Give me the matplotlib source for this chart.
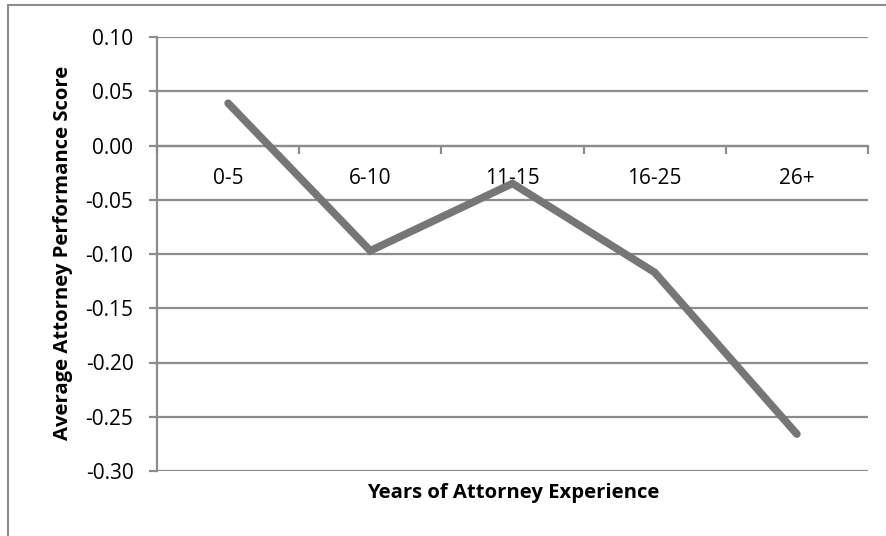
import numpy as np
import matplotlib.pyplot as plt
from matplotlib.patches import Rectangle

categories = ['0-5', '6-10', '11-15', '16-25', '26+']
scores = [0.039, -0.097, -0.035, -0.117, -0.266]
yticks = [0.10, 0.05, 0.00, -0.05, -0.10, -0.15, -0.20, -0.25, -0.30]

plt.rcParams['font.family'] = ['Open Sans', 'DejaVu Sans']

fig = plt.figure(figsize=(8.86, 5.36), dpi=100)
ax = fig.add_axes([157/886, 1-471/536, (868-157)/886, (471-37)/536])

# outer border of the chart (right and bottom edges fall outside the picture)
fig.patches.append(Rectangle((8/886, -0.05), 1.1, 1.05 - 5/536 + 0.0,
                             transform=fig.transFigure, fill=False,
                             edgecolor='#8c8c8c', linewidth=1.5))

x = np.arange(len(categories))
ax.plot(x, scores, color='#767676', linewidth=5.5, solid_capstyle='round',
        solid_joinstyle='miter', zorder=3)

ax.set_xlim(-0.5, len(categories) - 0.5)
ax.set_ylim(-0.30, 0.10)
ax.set_yticks(yticks)
ax.set_yticklabels(['%.2f' % v for v in yticks], fontsize=15)
ax.yaxis.grid(True, color='#8c8c8c', linewidth=1.6)
ax.set_axisbelow(True)

for s in ['top', 'right']:
    ax.spines[s].set_visible(False)
ax.spines['left'].set_color('#8c8c8c')
ax.spines['left'].set_linewidth(1.6)
ax.spines['bottom'].set_position(('data', 0))
ax.spines['bottom'].set_color('#8c8c8c')
ax.spines['bottom'].set_linewidth(1.6)

ax.set_xticks(x)
ax.set_xticklabels(categories, fontsize=15)
ax.set_xticks(np.arange(len(categories) + 1) - 0.5, minor=True)
ax.tick_params(axis='x', which='major', length=0, pad=16)
ax.tick_params(axis='x', which='minor', length=6, width=1.6, color='#8c8c8c', direction='out')
ax.tick_params(axis='y', length=6, width=1.6, color='#8c8c8c', pad=11)

fig.text(513/886, 1-493/536, 'Years of Attorney Experience', fontsize=14.6,
         fontweight='bold', ha='center', va='center')
fig.text(63/886, 1-253/536, 'Average Attorney Performance Score', fontsize=14.6,
         fontweight='bold', ha='center', va='center', rotation=90)

fig.savefig('out.png', dpi=100)
